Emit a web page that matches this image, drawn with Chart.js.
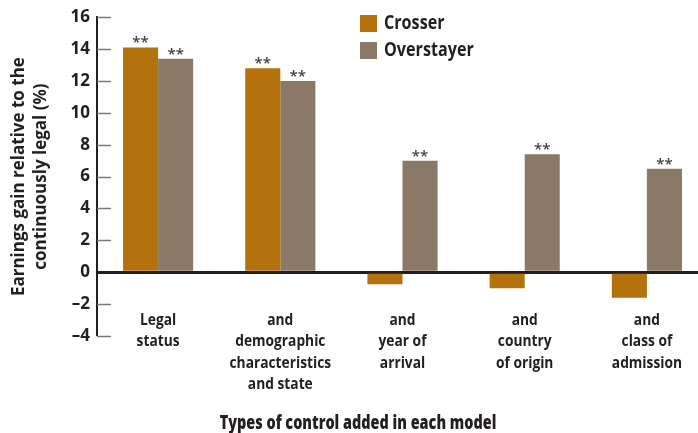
<!DOCTYPE html>
<html>
<head>
<meta charset="utf-8">
<script src="https://cdn.jsdelivr.net/npm/chart.js@4/dist/chart.umd.min.js"></script>
<style>
  html, body { margin: 0; padding: 0; background: #ffffff; overflow: hidden; }
  #wrap { width: 712px; height: 433px; }
</style>
</head>
<body>
<div id="wrap"><canvas id="chart" width="712" height="433"></canvas></div>
<script>
// Model specifications (x categories), each label split into lines
const categories = [
  ["Legal", "status"],
  ["and", "demographic", "characteristics", "and state"],
  ["and", "year of", "arrival"],
  ["and", "country", "of origin"],
  ["and", "class of", "admission"]
];

// Earnings gain relative to the continuously legal (%)
const crosser    = [14.1, 12.8, -0.75, -1.0, -1.6];
const overstayer = [13.4, 12.0, 7.0, 7.4, 6.5];

// Significance markers shown above the bars
const crosserSig    = ["**", "**", "", "", ""];
const overstayerSig = ["**", "**", "**", "**", "**"];

const yTicks = [-4, -2, 0, 2, 4, 6, 8, 10, 12, 14, 16];
const xTitle = "Types of control added in each model";

const INK = "#231f20";
const FONT = "'Open Sans', 'DejaVu Sans', sans-serif";

// Draw text squeezed horizontally to give a condensed face
function condensedText(ctx, text, x, y, sx) {
  ctx.save();
  ctx.translate(x, y);
  ctx.scale(sx, 1);
  ctx.fillText(text, 0, 0);
  ctx.restore();
}

// Tick marks drawn inward from the y axis line
const innerTicks = {
  id: "innerTicks",
  afterDraw(chart) {
    const y = chart.scales.y;
    const ctx = chart.ctx;
    const left = chart.chartArea.left;
    ctx.save();
    ctx.strokeStyle = "#7a7a7a";
    ctx.lineWidth = 1.5;
    yTicks.forEach(v => {
      if (v === 0) return;
      const py = Math.round(y.getPixelForValue(v)) + 0.5;
      ctx.beginPath();
      ctx.moveTo(left, py);
      ctx.lineTo(left + 14, py);
      ctx.stroke();
    });
    ctx.restore();
  }
};

// Multi-line category labels and the x axis title
const categoryLabels = {
  id: "categoryLabels",
  afterDraw(chart) {
    const x = chart.scales.x;
    const ctx = chart.ctx;
    ctx.save();
    ctx.font = "700 16px " + FONT;
    ctx.fillStyle = INK;
    ctx.textAlign = "center";
    ctx.textBaseline = "middle";
    categories.forEach((lines, i) => {
      const cx = x.getPixelForValue(i);
      lines.forEach((line, k) => {
        condensedText(ctx, line, cx, 320 + k * 21.5, 0.86);
      });
    });
    ctx.font = "800 19px " + FONT;
    condensedText(ctx, xTitle, 358, 424, 0.76);
    ctx.restore();
  }
};

// Significance stars above bars
const starLabels = {
  id: "starLabels",
  afterDatasetsDraw(chart) {
    const ctx = chart.ctx;
    const sigs = [crosserSig, overstayerSig];
    ctx.save();
    ctx.font = "600 15px " + FONT;
    ctx.fillStyle = "#3f3f3f";
    ctx.textAlign = "center";
    ctx.textBaseline = "alphabetic";
    chart.data.datasets.forEach((ds, i) => {
      const meta = chart.getDatasetMeta(i);
      meta.data.forEach((bar, j) => {
        const s = sigs[i][j];
        if (!s) return;
        ctx.fillText(s, bar.x, bar.y);
      });
    });
    ctx.restore();
  }
};

// Legend drawn in the upper right of the plot
const boxLegend = {
  id: "boxLegend",
  afterDraw(chart) {
    const ctx = chart.ctx;
    ctx.save();
    ctx.font = "700 19px " + FONT;
    ctx.textBaseline = "middle";
    ctx.textAlign = "left";
    chart.data.datasets.forEach((ds, i) => {
      const top = 15 + i * 27;
      ctx.fillStyle = ds.backgroundColor;
      ctx.fillRect(360, top, 17, 17);
      ctx.fillStyle = INK;
      condensedText(ctx, ds.label, 384, top + 9, 0.85);
    });
    ctx.restore();
  }
};

new Chart(document.getElementById("chart"), {
  type: "bar",
  data: {
    labels: categories.map(l => l.join(" ")),
    datasets: [
      { label: "Crosser", data: crosser, backgroundColor: "#b3720b" },
      { label: "Overstayer", data: overstayer, backgroundColor: "#8a7967" }
    ]
  },
  options: {
    responsive: false,
    animation: false,
    devicePixelRatio: 1,
    layout: { padding: { top: 16, right: 4, bottom: 0, left: 0 } },
    datasets: {
      bar: { categoryPercentage: 0.574, barPercentage: 1.0, borderWidth: 0 }
    },
    plugins: {
      legend: { display: false },
      tooltip: { enabled: false }
    },
    scales: {
      x: {
        afterFit(scale) { scale.height = 97; },
        border: { display: false },
        grid: { display: false, drawTicks: false },
        ticks: { display: false }
      },
      y: {
        min: -4,
        max: 16,
        afterFit(scale) { scale.width = 97; },
        afterBuildTicks(scale) { scale.ticks = yTicks.map(v => ({ value: v })); },
        border: { display: true, color: INK, width: 2 },
        grid: {
          drawTicks: false,
          lineWidth: ctx => (ctx.tick && ctx.tick.value === 0 ? 3 : 0),
          color: ctx => (ctx.tick && ctx.tick.value === 0 ? INK : "rgba(0,0,0,0)")
        },
        ticks: {
          padding: 7,
          color: INK,
          font: { family: FONT, size: 17, weight: "700" },
          callback: v => (v < 0 ? "\u2013" + Math.abs(v) : String(v))
        },
        title: {
          display: true,
          text: ["Earnings gain relative to the", "continuously legal (%)"],
          color: INK,
          font: { family: FONT, size: 17, weight: "700", lineHeight: 1.3 },
          padding: { top: 8, bottom: 0 }
        }
      }
    }
  },
  plugins: [innerTicks, categoryLabels, starLabels, boxLegend]
});
</script>
</body>
</html>
